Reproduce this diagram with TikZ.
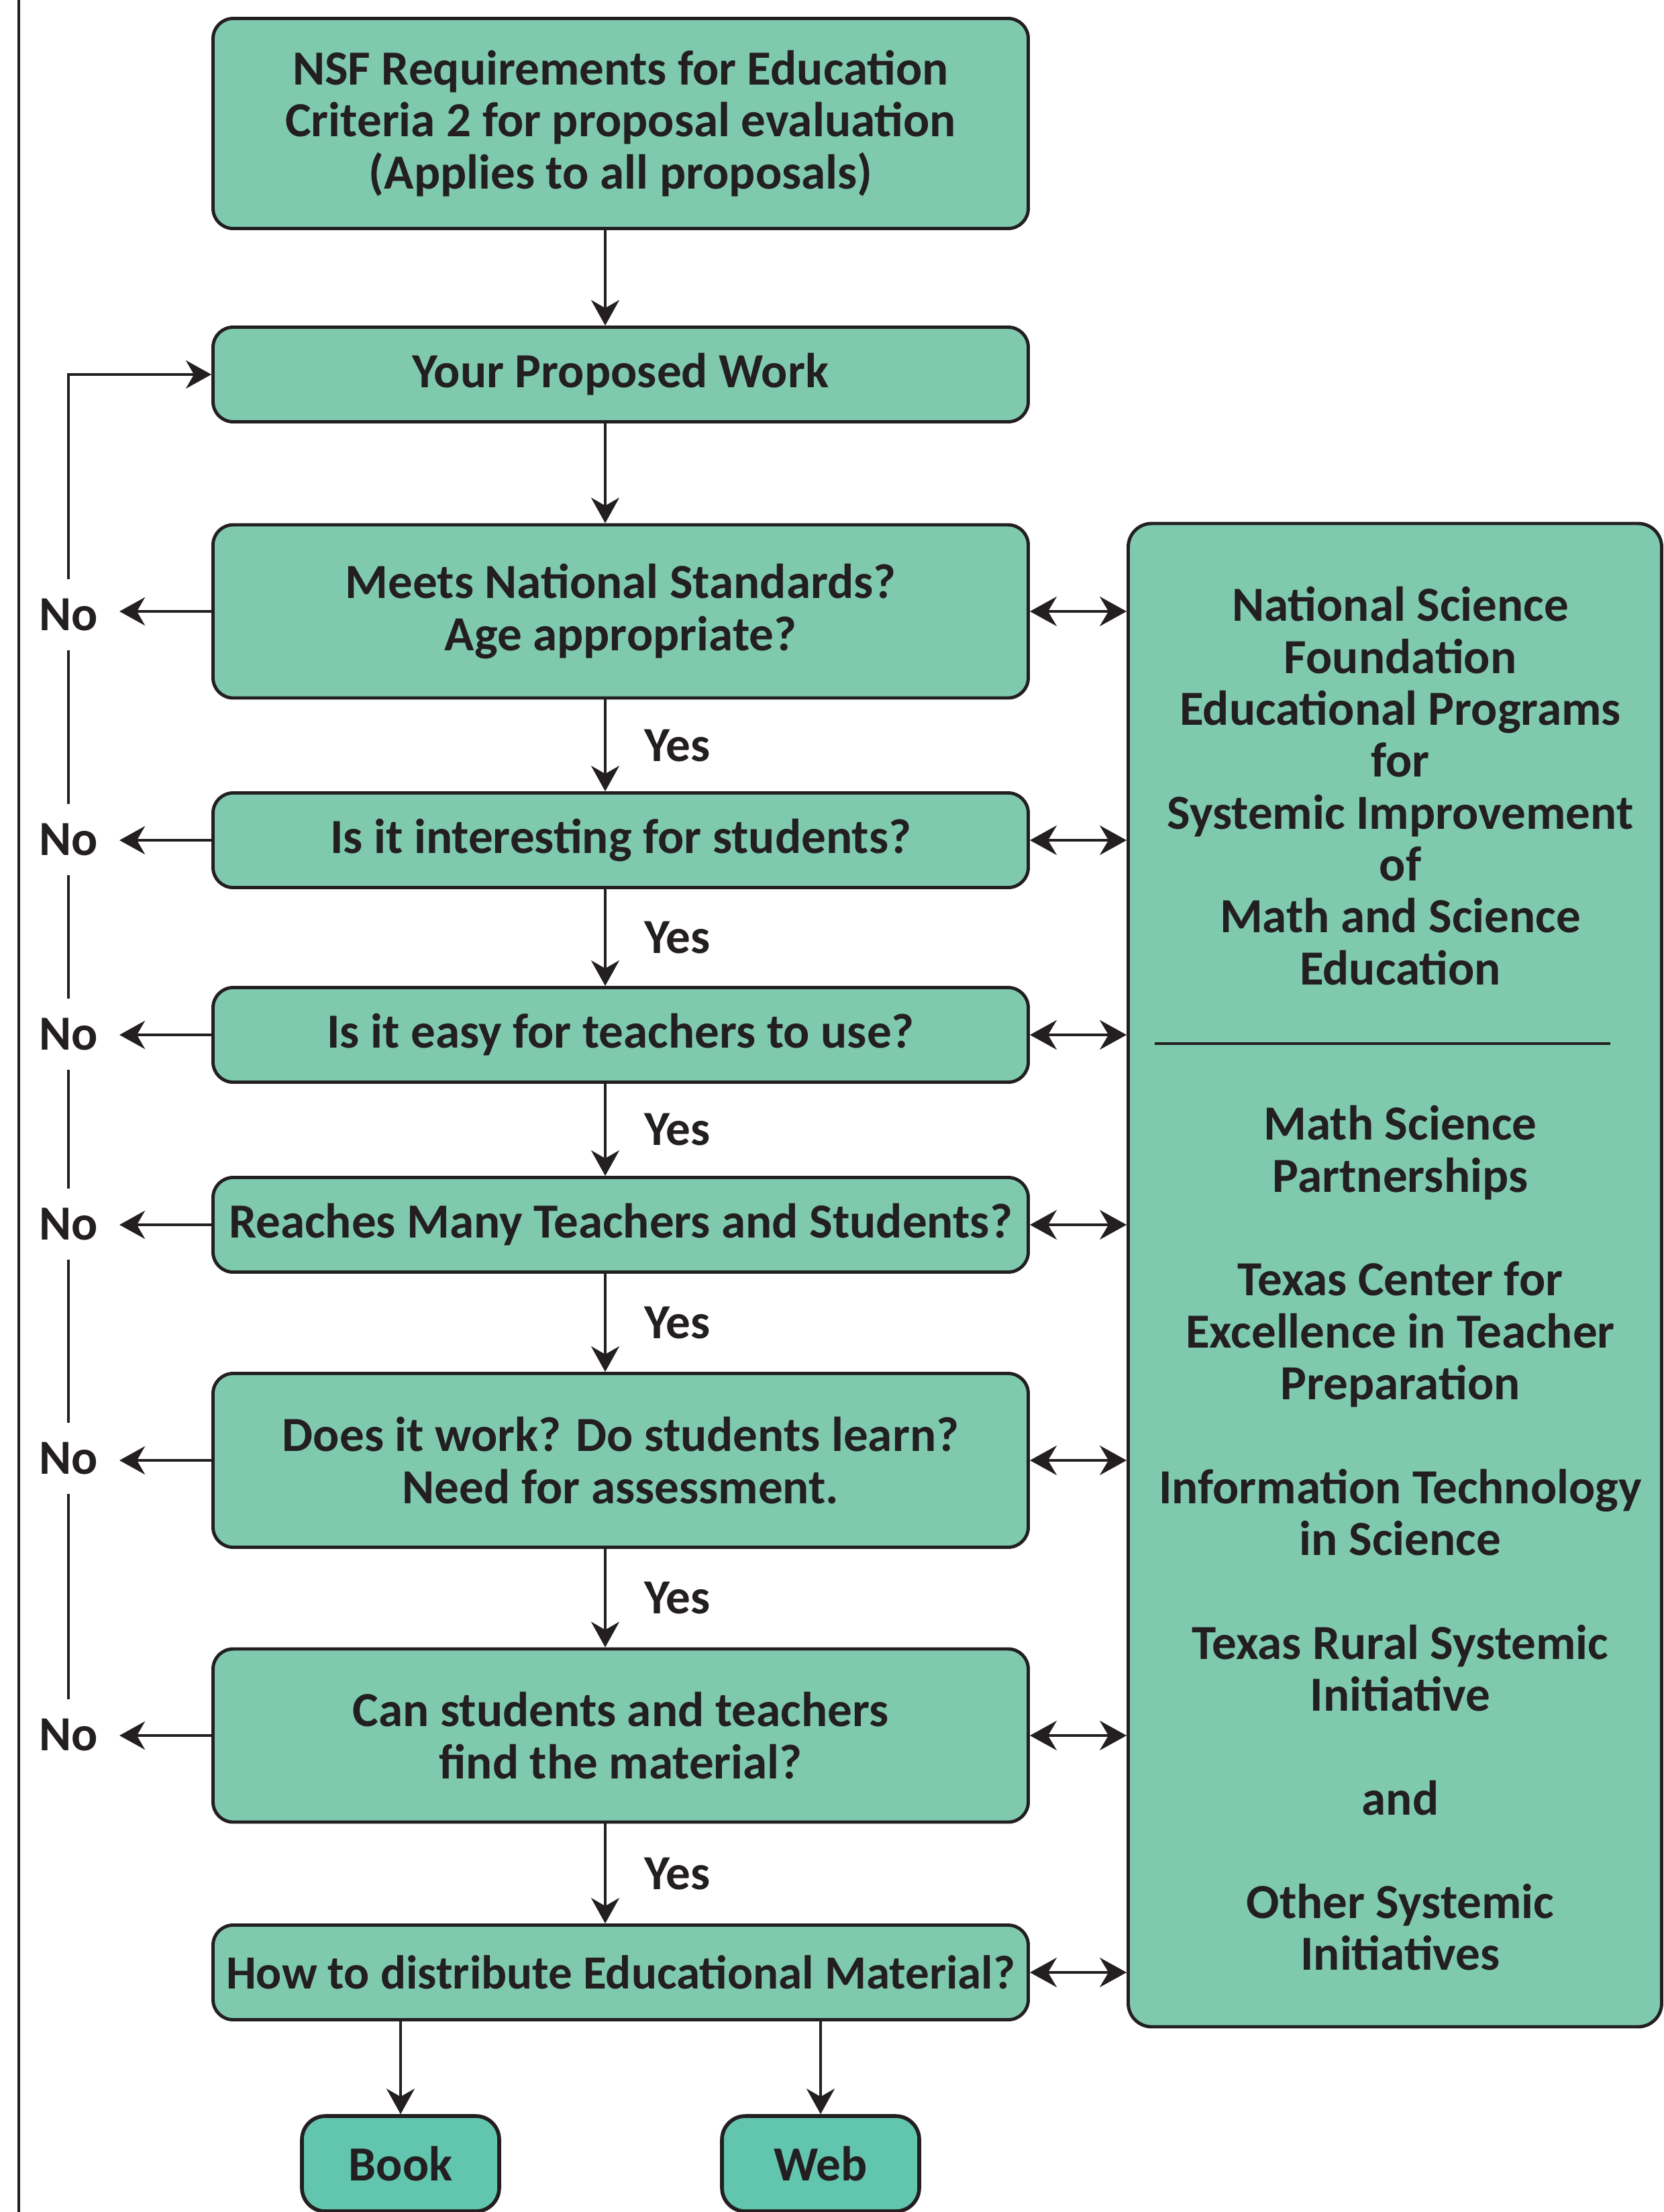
\documentclass[tikz,border=0pt]{standalone}
\usepackage{fontspec}
\setmainfont{Carlito}
\usetikzlibrary{arrows.meta}

\definecolor{boxgreen}{RGB}{127,202,174}
\definecolor{outgreen}{RGB}{98,197,174}
\definecolor{ink}{RGB}{35,31,32}

\tikzset{
  boxfont/.style={font=\bfseries\fontsize{20.8}{22}\selectfont, text=ink},
  stepbox/.style={boxfont, draw=ink, line width=1.4pt, fill=boxgreen,
    rounded corners=0.3cm, minimum width=12.15cm, align=center, inner sep=0pt},
  outbox/.style={boxfont, draw=ink, line width=1.6pt, fill=outgreen,
    rounded corners=0.35cm, minimum width=2.94cm, minimum height=1.42cm},
  infobox/.style={draw=ink, line width=1.4pt, fill=boxgreen,
    rounded corners=0.35cm, minimum width=7.95cm, minimum height=22.4cm},
  infotext/.style={boxfont, align=center, inner sep=0pt},
  nolab/.style={boxfont, inner xsep=9pt, minimum height=1.05cm},
  yes/.style={boxfont, anchor=west, xshift=0.45cm},
  line/.style={draw=ink, line width=1.1pt},
  arr/.style={line, -{Stealth[length=0.38cm, width=0.42cm, inset=0.12cm]}},
  darr/.style={line, {Stealth[length=0.4cm, width=0.44cm, inset=0.13cm]}-{Stealth[length=0.4cm, width=0.44cm, inset=0.13cm]}}
}

\begin{document}
\begin{tikzpicture}
  \useasboundingbox (0,0) rectangle (24.8,-32.96);
  % Coordinates
  \coordinate (ax) at (9.02,0);
  % Page border
  \draw[line, line width=1.4pt] (0.28,0) -- (0.28,-32.96);
  % Main boxes
  \node[stepbox, minimum height=3.13cm] (p1) at (9.25,-1.84) {NSF Requirements for Education\\Criteria 2 for proposal evaluation\\(Applies to all proposals)};
  \node[stepbox, minimum height=1.41cm] (p2) at (9.25,-5.58) {Your Proposed Work};
  \node[stepbox, minimum height=2.58cm] (p3) at (9.25,-9.11) {Meets National Standards?\\Age appropriate?};
  \node[stepbox, minimum height=1.41cm] (p4) at (9.25,-12.52) {Is it interesting for students?};
  \node[stepbox, minimum height=1.41cm] (p5) at (9.25,-15.42) {Is it easy for teachers to use?};
  \node[stepbox, minimum height=1.41cm] (p6) at (9.25,-18.25) {Reaches Many Teachers and Students?};
  \node[stepbox, minimum height=2.59cm] (p7) at (9.25,-21.76) {Does it work? Do students learn?\\Need for assessment.};
  \node[stepbox, minimum height=2.58cm] (p8) at (9.25,-25.86) {Can students and teachers\\find the material?};
  \node[stepbox, minimum height=1.41cm, font=\bfseries\fontsize{20.2}{22}\selectfont] (p9) at (9.25,-29.39) {How to distribute Educational Material?};
  % Outcomes
  \node[outbox] (bk) at (5.97,-32.24) {Book};
  \node[outbox] (wb) at (12.23,-32.24) {Web};
  % Programs box
  \node[infobox] (nsf) at (20.79,-19.0) {};
  \node[infotext] (nsfa) at (20.87,-11.71) {National Science\\Foundation\\Educational Programs\\for\\Systemic Improvement\\of\\Math and Science\\Education};
  \node[infotext] (nsfb) at (20.87,-22.92) {Math Science\\Partnerships\\[22pt]Texas Center for\\Excellence in Teacher\\Preparation\\[22pt]Information Technology\\in Science\\[22pt]Texas Rural Systemic\\Initiative\\[22pt]and\\[22pt]Other Systemic\\Initiatives};
  \draw[line] (17.21,-15.55) -- (24.00,-15.55);
  % No labels
  \node[nolab] (n3) at (1.02,-9.16) {No};
  \node[nolab] (n4) at (1.02,-12.51) {No};
  \node[nolab] (n5) at (1.02,-15.41) {No};
  \node[nolab] (n6) at (1.02,-18.24) {No};
  \node[nolab] (n7) at (1.02,-21.73) {No};
  \node[nolab] (n8) at (1.02,-25.85) {No};
  % Yes path
  \draw[arr] (p1.south -| ax) -- (p2.north -| ax);
  \draw[arr] (p2.south -| ax) -- (p3.north -| ax);
  \foreach \a/\b in {p3/p4,p4/p5,p5/p6,p6/p7,p7/p8,p8/p9}
    \draw[arr] (\a.south -| ax) -- node[yes] {Yes} (\b.north -| ax);
  \draw[arr] (p9.south -| bk.north) -- (bk.north);
  \draw[arr] (p9.south -| wb.north) -- (wb.north);
  % No path
  \foreach \i in {3,...,8}
    \draw[arr] (p\i.west) -- (p\i.west -| n\i.east);
  \draw[line] (n8.north) -- (n7.south);
  \draw[line] (n7.north) -- (n6.south);
  \draw[line] (n6.north) -- (n5.south);
  \draw[line] (n5.north) -- (n4.south);
  \draw[line] (n4.north) -- (n3.south);
  \draw[arr] (n3.north) |- (p2.west);
  % Links to programs
  \foreach \i in {3,...,9}
    \draw[darr] (p\i.east) -- (p\i.east -| nsf.west);
\end{tikzpicture}
\end{document}
